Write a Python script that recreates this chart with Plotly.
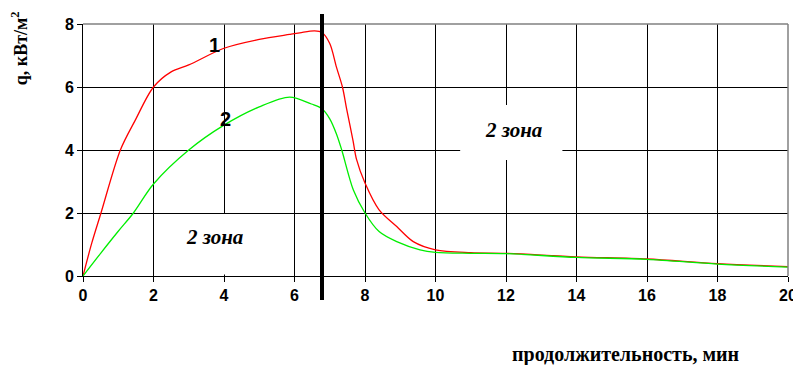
import plotly.graph_objects as go

# Data
x_red = [0, 0.25, 0.51, 1.06, 1.48, 2, 2.5, 3, 4, 5, 5.86, 6.15, 6.57, 6.78, 7.0, 7.19, 7.36, 7.48, 7.66, 7.76, 8, 8.4, 8.9, 9.37, 10, 11, 12, 14, 16, 18, 20]
q_red = [0, 1.05, 2.0, 4.0, 4.94, 6.0, 6.48, 6.7, 7.23, 7.51, 7.67, 7.72, 7.78, 7.73, 7.38, 6.63, 6.0, 5.3, 4.3, 3.7, 2.95, 2.1, 1.57, 1.09, 0.83, 0.74, 0.72, 0.61, 0.54, 0.39, 0.30]

x_green = [0, 0.5, 1, 1.43, 2, 3, 4, 5, 5.86, 6.48, 6.78, 7.0, 7.19, 7.34, 7.67, 8, 8.4, 8.9, 9.56, 10, 11, 12, 14, 16, 18, 20]
q_green = [0, 0.72, 1.42, 2.0, 2.92, 4.0, 4.79, 5.37, 5.68, 5.46, 5.31, 4.99, 4.51, 4.0, 2.73, 2.0, 1.41, 1.09, 0.83, 0.75, 0.72, 0.71, 0.59, 0.53, 0.38, 0.28]

x_ticks = [0, 2, 4, 6, 8, 10, 12, 14, 16, 18, 20]
y_ticks = [0, 2, 4, 6, 8]
boundary_x = 6.78

fig = go.Figure()
fig.add_trace(go.Scatter(x=x_red, y=q_red, mode="lines",
                         line=dict(color="#ff0000", width=1.3, shape="spline", smoothing=0.9),
                         showlegend=False, hoverinfo="skip"))
fig.add_trace(go.Scatter(x=x_green, y=q_green, mode="lines",
                         line=dict(color="#00ee00", width=1.3, shape="spline", smoothing=0.9),
                         showlegend=False, hoverinfo="skip"))

tick_font = dict(family="Liberation Sans, Arial", size=16, color="black")

fig.update_xaxes(range=[0, 20], tickvals=x_ticks, ticktext=[f"<b>{v}</b>" for v in x_ticks],
                 showgrid=True, gridcolor="black", gridwidth=1,
                 showline=True, linecolor="black", linewidth=1, ticks="outside", ticklen=5,
                 tickcolor="black", tickfont=tick_font, zeroline=False, fixedrange=True,
                 automargin=False, ticklabeloverflow="allow")
fig.update_yaxes(range=[0, 8], tickvals=y_ticks, ticktext=[f"<b>{v}</b>" for v in y_ticks],
                 showgrid=True, gridcolor="black", gridwidth=1,
                 showline=True, linecolor="black", linewidth=1, ticks="outside", ticklen=5,
                 tickcolor="black", tickfont=tick_font, zeroline=False, fixedrange=True,
                 automargin=False)

shapes = [
    dict(type="line", xref="paper", yref="paper", x0=0, x1=1, y0=1, y1=1,
         line=dict(color="#808080", width=1.5)),
    dict(type="line", xref="paper", yref="paper", x0=1, x1=1, y0=0, y1=1,
         line=dict(color="#808080", width=1.5)),
    dict(type="rect", xref="x", yref="y", x0=10.7, x1=13.6, y0=3.68, y1=5.43,
         fillcolor="white", line=dict(width=0), layer="between"),
    dict(type="rect", xref="x", yref="y", x0=2.15, x1=5.9, y0=0.05, y1=1.97,
         fillcolor="white", line=dict(width=0), layer="between"),
    dict(type="line", xref="x", yref="paper", x0=boundary_x, x1=boundary_x, y0=-0.095, y1=1.04,
         line=dict(color="black", width=4)),
]
fig.update_layout(shapes=shapes)

zone_font = dict(family="Liberation Serif, Times New Roman", size=21, color="black")
num_font = dict(family="Liberation Sans, Arial", size=20, color="black")
annotations = [
    dict(x=12.2, y=4.63, xref="x", yref="y", text="<b><i>2 зона</i></b>", showarrow=False, font=zone_font),
    dict(x=3.74, y=1.24, xref="x", yref="y", text="<b><i>2 зона</i></b>", showarrow=False, font=zone_font),
    dict(x=3.74, y=7.33, xref="x", yref="y", text="<b>1</b>", showarrow=False, font=num_font),
    dict(x=4.03, y=5.0, xref="x", yref="y", text="<b>2</b>", showarrow=False, font=num_font),
    dict(x=-0.089, y=0.905, xref="paper", yref="paper", xanchor="center", yanchor="middle",
         text="<b>q, кВт/м<sup>2</sup></b>", textangle=-90, showarrow=False,
         font=dict(family="Liberation Serif, Times New Roman", size=18, color="black")),
    dict(x=0.769, y=-0.313, xref="paper", yref="paper", xanchor="center", yanchor="middle",
         text="<b>продолжительность, мин</b>", showarrow=False,
         font=dict(family="Liberation Serif, Times New Roman", size=20, color="black")),
]
fig.update_layout(annotations=annotations)

# page body adds an 8px offset; compensate so the plot area lands at the reference position
fig.update_layout(width=793, height=357, margin=dict(l=75, r=13, t=16, b=89),
                  paper_bgcolor="white", plot_bgcolor="white", showlegend=False)

fig.write_html("out.html")
